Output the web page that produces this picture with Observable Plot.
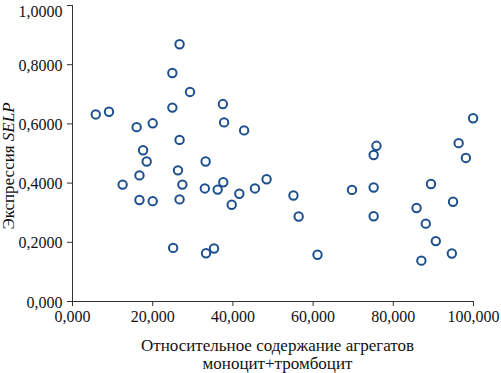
<!DOCTYPE html>
<html><head><meta charset="utf-8">
<script src="https://cdn.jsdelivr.net/npm/d3@7"></script>
<script src="https://cdn.jsdelivr.net/npm/@observablehq/plot@0.6"></script>
<style>body{margin:0;background:#fff}</style>
</head><body><div id="chart"></div>
<script>
const xValues = [5.8,9.1,12.5,16.0,16.7,16.7,17.6,18.5,20.0,20.0,24.9,24.9,25.1,26.7,26.7,26.3,27.4,26.7,29.3,33.2,33.0,33.3,35.3,36.2,37.5,37.8,37.6,39.7,41.6,42.8,45.5,48.4,55.1,56.4,61.1,69.7,75.8,75.1,75.1,75.1,85.8,87.0,88.1,89.4,90.6,94.6,94.9,96.3,98.1,99.9];
const yValues = [0.632,0.641,0.395,0.589,0.426,0.343,0.511,0.473,0.602,0.339,0.772,0.655,0.181,0.869,0.546,0.443,0.395,0.345,0.708,0.473,0.382,0.163,0.179,0.378,0.667,0.605,0.403,0.327,0.364,0.578,0.382,0.413,0.358,0.287,0.158,0.377,0.526,0.495,0.385,0.288,0.316,0.138,0.263,0.397,0.204,0.162,0.337,0.535,0.485,0.619];
const xTicks = [0,20,40,60,80,100];
const yTicks = [0,0.2,0.4,0.6,0.8,1.0];
const xLabel = ["Относительное содержание агрегатов","моноцит+тромбоцит"];
const yLabelMain = "Экспрессия ";
const yLabelItalic = "SELP";

const FONT = "Liberation Serif";
const data = xValues.map((x,i)=>({x, y:yValues[i]}));
const fmtX = d => d.toFixed(3).replace(".",",");
const fmtY = d => d === 0 ? "0,000" : d.toFixed(4).replace(".",",");
const yTicksLow = yTicks.filter(d => d < 1);
const yTicksTop = yTicks.filter(d => d >= 1);

const plot = Plot.plot({
  width: 501, height: 373,
  marginLeft: 72, marginRight: 28, marginTop: 5, marginBottom: 72,
  style: {fontFamily: FONT, fontSize: "16px", color: "#111", background: "#fff"},
  x: {domain: [0,100], label: null},
  y: {domain: [0,1], label: null},
  marks: [
    Plot.axisX({ticks: xTicks, tickFormat: fmtX, tickSize: 5, tickPadding: 4, stroke: "#333", label: null, fontSize: 16}),
    Plot.axisY({ticks: yTicks, tickFormat: () => "", tickSize: 5, stroke: "#333", label: null}),
    Plot.text(yTicksLow, {x: 0, y: d => d, text: fmtY, textAnchor: "end", dx: -10, dy: 1, fontSize: 16, fill: "#111"}),
    Plot.text(yTicksTop, {x: 0, y: d => d, text: fmtY, textAnchor: "end", dx: -10, dy: 6, fontSize: 16, fill: "#111"}),
    Plot.ruleX([0], {stroke: "#333"}),
    Plot.ruleY([0], {stroke: "#333"}),
    Plot.dot(data, {x: "x", y: "y", r: 4.2, stroke: "#1d4f8f", strokeWidth: 2, fill: "white"})
  ]
});
const svg = d3.select(plot);
svg.append("text").attr("x", 277.5).attr("y", 350.5).attr("text-anchor","middle")
  .attr("font-size", 17).attr("fill","#111").text(xLabel[0]);
svg.append("text").attr("x", 277.5).attr("y", 369).attr("text-anchor","middle")
  .attr("font-size", 17).attr("fill","#111").text(xLabel[1]);
const yl = svg.append("text").attr("transform","translate(14,166) rotate(-90)")
  .attr("text-anchor","middle").attr("font-size", 17).attr("fill","#111");
yl.append("tspan").text(yLabelMain);
yl.append("tspan").attr("font-style","italic").text(yLabelItalic);
svg.style("font-family", FONT, "important");
svg.selectAll("g, text").attr("font-family", FONT).style("font-family", FONT, "important");
document.getElementById("chart").appendChild(plot);
</script>
</body></html>
